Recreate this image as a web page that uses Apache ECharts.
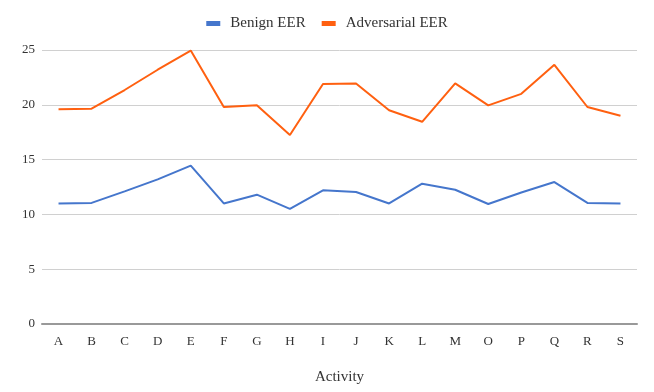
<!DOCTYPE html>
<html>
<head>
<meta charset="utf-8">
<script src="https://cdn.jsdelivr.net/npm/echarts@6/dist/echarts.min.js"></script>
<style>
  html, body { margin: 0; padding: 0; background: #fff; }
  #chart { width: 654px; height: 392px; }
</style>
</head>
<body>
<div id="chart"></div>
<script>
// categories and values
const activities = ['A', 'B', 'C', 'D', 'E', 'F', 'G', 'H', 'I', 'J', 'K', 'L', 'M', 'O', 'P', 'Q', 'R', 'S'];
const benignEER = [11.0, 11.05, 12.1, 13.2, 14.45, 11.0, 11.8, 10.5, 12.2, 12.05, 11.0, 12.8, 12.25, 10.95, 12.0, 12.95, 11.05, 11.0];
const adversarialEER = [19.6, 19.65, 21.35, 23.2, 24.95, 19.8, 19.95, 17.25, 21.9, 21.95, 19.5, 18.45, 21.95, 19.95, 21.0, 23.65, 19.8, 19.0];
const yTicks = [0, 5, 10, 15, 20, 25];

const FONT = '"Liberation Serif", "DejaVu Serif", serif';

const chart = echarts.init(document.getElementById('chart'));

const option = {
    animation: false,
    textStyle: { fontFamily: FONT },
    legend: {
        top: 11,
        left: 'center',
        itemWidth: 14,
        itemHeight: 5,
        itemGap: 16,
        icon: 'rect',
        textStyle: { fontFamily: FONT, fontSize: 15, color: '#333', padding: [0, 0, 0, 5] },
        data: ['Benign EER', 'Adversarial EER']
    },
    grid: { left: 42, right: 17, top: 50, bottom: 68 },
    xAxis: {
        type: 'category',
        data: activities,
        boundaryGap: true,
        name: 'Activity',
        nameLocation: 'middle',
        nameGap: 46,
        nameTextStyle: { fontFamily: FONT, fontSize: 15, color: '#333' },
        axisLine: { lineStyle: { color: '#999', width: 2 } },
        axisTick: { show: false },
        axisLabel: { fontFamily: FONT, fontSize: 13, color: '#333', margin: 11 }
    },
    yAxis: {
        type: 'value',
        min: yTicks[0],
        max: yTicks[yTicks.length - 1],
        interval: 5,
        axisLine: { show: false },
        axisTick: { show: false },
        axisLabel: { fontFamily: FONT, fontSize: 13, color: '#333', margin: 7 },
        splitLine: { lineStyle: { color: '#d0d0d0', width: 1 } }
    },
    series: [
        {
            name: 'Benign EER',
            type: 'line',
            data: benignEER,
            symbol: 'none',
            itemStyle: { color: '#4576cc' },
            lineStyle: { color: '#4576cc', width: 2 }
        },
        {
            name: 'Adversarial EER',
            type: 'line',
            data: adversarialEER,
            symbol: 'none',
            itemStyle: { color: '#ff6010' },
            lineStyle: { color: '#ff6010', width: 2 }
        }
    ]
};

chart.setOption(option);
</script>
</body>
</html>
